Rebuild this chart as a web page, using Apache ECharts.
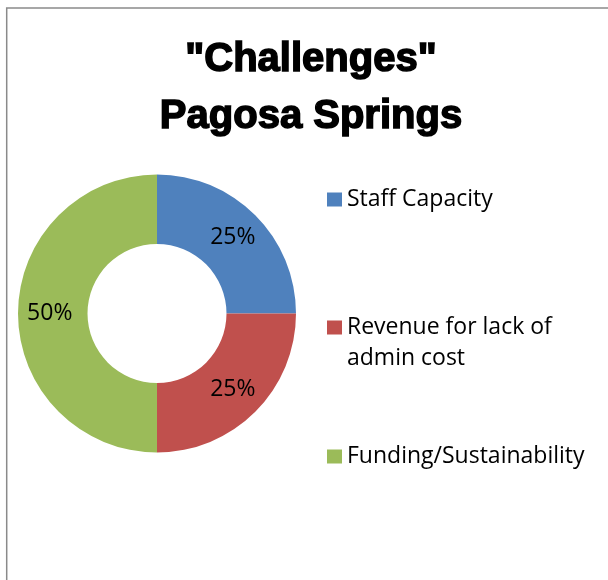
<!DOCTYPE html>
<html>
<head>
<meta charset="utf-8">
<script src="https://cdn.jsdelivr.net/npm/echarts@6/dist/echarts.min.js"></script>
<style>
  html, body { margin: 0; padding: 0; background: #ffffff; }
  #chart { width: 608px; height: 580px; }
</style>
</head>
<body>
<div id="chart"></div>
<script>
// Share of reported challenges, in percent
const categories = ['Staff Capacity', 'Revenue for lack of admin cost', 'Funding/Sustainability'];
const shares = [25, 25, 50];
const sliceColors = ['#4F81BD', '#C0504D', '#9BBB59'];
const titleLines = ['"Challenges"', 'Pagosa Springs'];

const bodyFont = '"Open Sans", "Noto Sans", sans-serif';
const wrapped = 'Revenue for lack of admin cost';

const pieData = categories.map((name, i) => ({
  name: name,
  value: shares[i],
  itemStyle: { color: sliceColors[i] }
}));

// One legend block per entry so each can sit at its own height.
// The wrapped entry uses a taller icon box (square at its top) so the
// swatch lines up with the first text line rather than the block middle.
const legendTops = [184, 312, 441];
const legends = categories.map((name, i) => {
  const tall = name === wrapped;
  return {
    data: [name],
    left: 327,
    top: legendTops[i],
    padding: 0,
    orient: 'vertical',
    selectedMode: false,
    icon: tall ? 'path://M0,0H15V14H0Z M0,45H0.01' : 'rect',
    itemWidth: 15,
    itemHeight: tall ? 45 : 14,
    formatter: n => n === wrapped ? 'Revenue for lack of\nadmin cost' : n,
    textStyle: {
      fontFamily: bodyFont,
      fontSize: 23,
      color: '#000000',
      lineHeight: 31
    }
  };
});

const chart = echarts.init(document.getElementById('chart'), null, { renderer: 'canvas' });
chart.setOption({
  backgroundColor: '#ffffff',
  animation: false,
  title: {
    text: titleLines.join('\n'),
    left: 311,
    top: 32,
    padding: 0,
    textAlign: 'center',
    textStyle: {
      fontFamily: '"Liberation Sans", Arial, sans-serif',
      fontWeight: 'bold',
      fontSize: 40,
      lineHeight: 56.5,
      color: '#000000',
      textBorderColor: '#000000',
      textBorderWidth: 1.5
    }
  },
  legend: legends,
  graphic: [{
    type: 'rect',
    silent: true,
    z: -1,
    shape: { x: 6.7, y: 8, width: 700, height: 700 },
    style: { fill: 'none', stroke: '#8a8a8a', lineWidth: 1.5 }
  }],
  series: [{
    type: 'pie',
    center: [157, 313.5],
    radius: [69.5, 139],
    startAngle: 90,
    clockwise: true,
    avoidLabelOverlap: false,
    label: {
      show: true,
      position: 'inside',
      formatter: p => p.value + '%',
      fontFamily: bodyFont,
      fontSize: 23,
      color: '#000000'
    },
    labelLine: { show: false },
    itemStyle: { borderWidth: 0 },
    emphasis: { disabled: true },
    data: pieData
  }]
});
</script>
</body>
</html>
